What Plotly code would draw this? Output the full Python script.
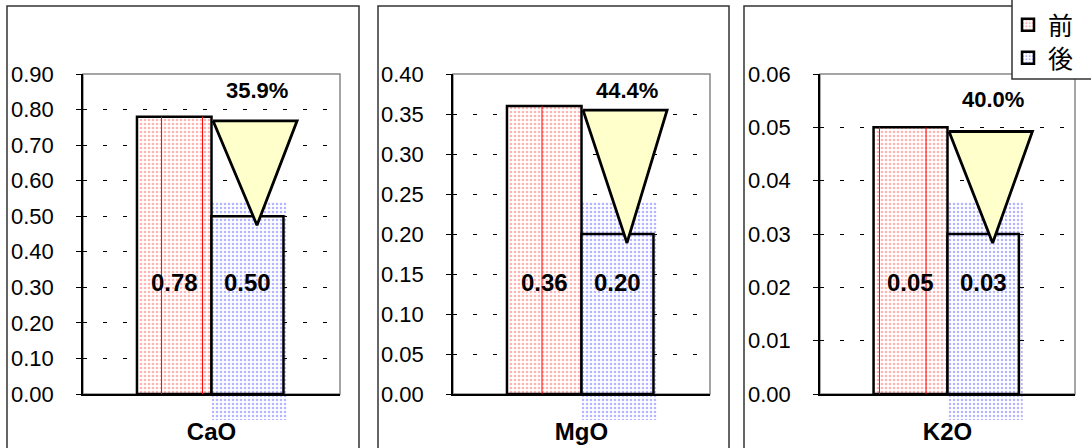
import plotly.graph_objects as go

# ---- data ----
categories = ["CaO", "MgO", "K2O"]
before_vals = [0.78, 0.36, 0.05]
after_vals = [0.50, 0.20, 0.03]
axis_max = [0.9, 0.4, 0.06]
axis_step = [0.1, 0.05, 0.01]
series_names = ["前", "後"]

# ---- layout geometry (pixels) ----
W, H = 1091, 448
panel_px = [(7, 359), (378, 729), (744, 1120)]
plot_px = [(83, 340), (453, 710), (820, 1075)]
TOP, BOT, OVF = 74, 394, 420
# thin red streaks inside the red bars (fraction of bar width)
streaks = [[0.33, 0.88], [0.47], [0.08, 0.71]]

FONT = "Liberation Sans, Arial, Noto Sans CJK JP, sans-serif"
RED_FG = "#ff6a6a"
BLUE_FG = "#6a6aff"


def fx(p):
    return p / W


def fy(p):
    return 1 - p / H


fig = go.Figure()
layout = {}
shapes = []
annotations = []

for i, cat in enumerate(categories):
    l, r = plot_px[i]
    v1, v2, ymax, step = before_vals[i], after_vals[i], axis_max[i], axis_step[i]

    # --- background (overflow dotted area) subplot: ids 1..3 ---
    k = i + 1
    ks = "" if k == 1 else str(k)
    ext = (OVF - BOT) / (BOT - TOP)
    layout[f"xaxis{ks}"] = dict(domain=[fx(l), fx(r)], range=[-0.5, 0.5], visible=False,
                                anchor=f"y{ks}", fixedrange=True)
    layout[f"yaxis{ks}"] = dict(domain=[fy(OVF), fy(TOP)], range=[-ext, 1], visible=False,
                                anchor=f"x{ks}", fixedrange=True)
    fig.add_trace(go.Scatter(
        x=[0, 0.295, 0.295, 0, 0], y=[-ext, -ext, 0.6, 0.6, -ext],
        fill="toself", mode="none", fillcolor="rgba(0,0,0,0)",
        fillpattern=dict(shape=".", fgcolor=BLUE_FG, bgcolor="rgba(0,0,0,0)", size=4, solidity=0.32),
        xaxis=f"x{ks}", yaxis=f"y{ks}", showlegend=False, hoverinfo="skip"))

    # --- main subplot: ids 4..6 ---
    n = i + 4
    xa, ya = f"x{n}", f"y{n}"
    layout[f"xaxis{n}"] = dict(
        domain=[fx(l), fx(r)], range=[-0.5, 0.5], anchor=ya,
        showline=True, linecolor="black", linewidth=2,
        tickvals=[0], ticktext=[cat], ticks="", showgrid=False, zeroline=False,
        tickfont=dict(size=24, color="black", family=FONT, weight="bold"),
        ticklabelstandoff=15, fixedrange=True)
    layout[f"yaxis{n}"] = dict(
        domain=[fy(BOT), fy(TOP)], range=[0, ymax], anchor=xa,
        tick0=0, dtick=step, tickformat=".2f",
        ticks="outside", ticklen=5, tickcolor="black",
        showline=True, linecolor="black", linewidth=1.5,
        showgrid=True, gridcolor="black", gridwidth=1, griddash="4px,16px",
        zeroline=False, tickfont=dict(size=22, color="black", family=FONT),
        ticklabelstandoff=18, fixedrange=True)

    red_w = 0.29
    fig.add_trace(go.Bar(
        x=[0], y=[v1], width=red_w, offset=-red_w, name=series_names[0],
        legend="legend", showlegend=(i == 0),
        marker=dict(color="white", line=dict(color="black", width=2.5),
                    pattern=dict(shape=".", fgcolor=RED_FG, size=4, solidity=0.35)),
        xaxis=xa, yaxis=ya, hoverinfo="skip"))
    fig.add_trace(go.Bar(
        x=[0], y=[v2], width=0.28, offset=0.0, name=series_names[1],
        legend="legend2", showlegend=(i == 0),
        marker=dict(color="white", line=dict(color="black", width=2.5),
                    pattern=dict(shape=".", fgcolor=BLUE_FG, size=4, solidity=0.32)),
        xaxis=xa, yaxis=ya, hoverinfo="skip"))

    for f in streaks[i]:
        xs = -red_w + f * red_w
        shapes.append(dict(type="line", xref=xa, yref=ya, x0=xs, x1=xs, y0=0, y1=v1,
                           line=dict(color="#ff0000", width=1), layer="above"))

    # reduction triangle
    top = v1 - 0.013 * ymax
    apex = v2 - 0.028 * ymax
    fig.add_trace(go.Scatter(
        x=[0.006, 0.333, 0.177, 0.006], y=[top, top, apex, top],
        mode="lines", fill="toself", fillcolor="#FFFFCC",
        line=dict(color="black", width=2.8), showlegend=False,
        xaxis=xa, yaxis=ya, hoverinfo="skip"))

    pct = (v1 - v2) / v1 * 100
    label_frac = min(top / ymax + 32 / (BOT - TOP), 0.95)
    annotations.append(dict(x=0.177, y=label_frac, xref=xa, yref=f"{ya} domain",
                            xanchor="center", yanchor="middle",
                            text=f"<b>{pct:.1f}%</b>", showarrow=False,
                            font=dict(size=22, color="black", family=FONT)))
    for xv, val in [(-0.145, v1), (0.14, v2)]:
        annotations.append(dict(x=xv, y=0.347, xref=xa, yref=f"{ya} domain",
                                xanchor="center", yanchor="middle",
                                text=f"<b>{val:.2f}</b>", showarrow=False,
                                font=dict(size=24, color="black", family=FONT)))

    # gray top/right frame of plot area
    shapes.append(dict(type="rect", xref=f"{xa} domain", yref=f"{ya} domain",
                       x0=0, x1=1, y0=0, y1=1, line=dict(color="#888888", width=1.5),
                       layer="below"))
    # outer panel border
    pl, pr = panel_px[i]
    shapes.append(dict(type="rect", xref="paper", yref="paper",
                       x0=fx(pl), x1=fx(pr), y0=-0.1, y1=fy(6),
                       line=dict(color="#333333", width=1.5), layer="below"))

# legend box
shapes.append(dict(type="rect", xref="paper", yref="paper",
                   x0=fx(1012), x1=1.1, y0=fy(79), y1=1.1,
                   fillcolor="white", line=dict(color="#333333", width=1.5), layer="above"))

leg_common = dict(x=fx(1008), xanchor="left", yanchor="middle",
                  bgcolor="rgba(0,0,0,0)", borderwidth=0,
                  font=dict(size=25, family=FONT, color="black"))

fig.update_layout(**layout)
fig.update_layout(
    width=W, height=H,
    margin=dict(l=0, r=0, t=0, b=0, autoexpand=False),
    paper_bgcolor="white", plot_bgcolor="rgba(0,0,0,0)",
    barmode="overlay",
    shapes=shapes, annotations=annotations,
    font=dict(family=FONT, color="black"),
    legend=dict(y=fy(25), **leg_common),
    legend2=dict(y=fy(58), **leg_common),
)

fig.write_html("out.html", config={"displayModeBar": False},
               post_script="document.body.style.margin='0px';")
